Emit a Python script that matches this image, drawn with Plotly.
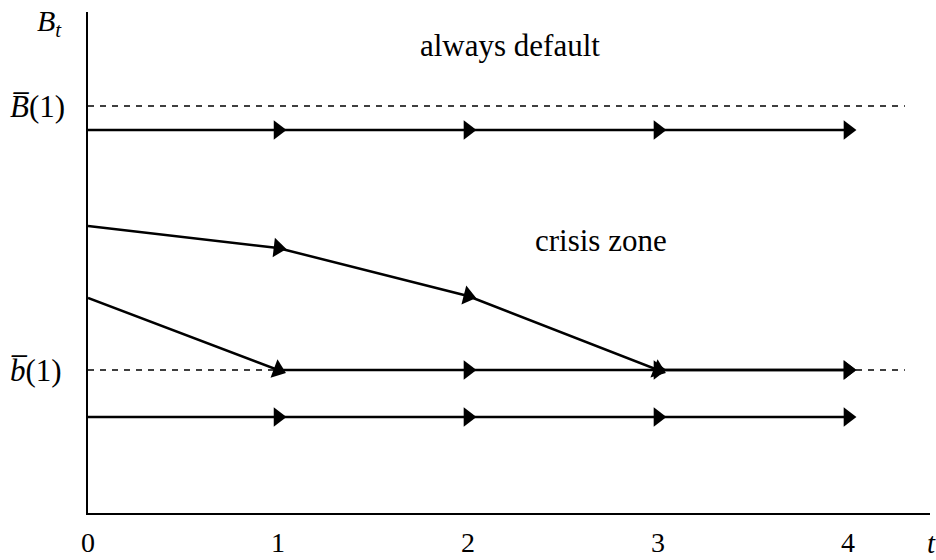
import plotly.graph_objects as go

# Time points
t_full = [0, 1, 2, 3, 4]

# Levels (arbitrary units)
B_bar = 4.07
b_bar = 1.43
top_path = [3.83, 3.83, 3.83, 3.83, 3.83]
crisis_path = [2.87, 2.65, 2.17, 1.43, 1.43]
mid_path = [2.15, 1.43, 1.43, 1.43, 1.43]
bottom_path = [0.96, 0.96, 0.96, 0.96, 0.96]

tick_vals = [0, 1, 2, 3, 4]
tick_labels = ["0", "1", "2", "3", "4"]

FONT = "Liberation Serif"
fig = go.Figure()

# dashed reference lines
for lvl in [B_bar, b_bar]:
    fig.add_trace(go.Scatter(x=[0, 4.3], y=[lvl, lvl], mode="lines",
                             line=dict(color="black", width=1.5, dash="6px,6px"),
                             hoverinfo="skip", showlegend=False))

for path in [top_path, crisis_path, mid_path, bottom_path]:
    fig.add_trace(go.Scatter(
        x=t_full, y=path, mode="lines+markers",
        line=dict(color="black", width=2.5),
        marker=dict(symbol="triangle-up", angleref="previous",
                    size=[0] + [17] * (len(path) - 1), color="black",
                    opacity=1, line=dict(width=0)),
        hoverinfo="skip", showlegend=False))

fig.add_annotation(x=2.22, y=4.68, text="always default", showarrow=False,
                   font=dict(family=FONT, size=31, color="black"))
fig.add_annotation(x=2.7, y=2.73, text="crisis zone", showarrow=False,
                   font=dict(family=FONT, size=31, color="black"))

# axis labels
fig.add_annotation(x=0, y=4.9, xref="x", yref="y", xanchor="right", xshift=-24,
                   text="<i>B</i><sub><i>t</i></sub>", showarrow=False,
                   font=dict(family=FONT, size=30, color="black"))
fig.add_annotation(x=0, y=B_bar, xref="x", yref="y", xanchor="right", xshift=-21,
                   text="<i>B\u0305</i>(1)", showarrow=False,
                   font=dict(family=FONT, size=31, color="black"))
fig.add_annotation(x=0, y=b_bar, xref="x", yref="y", xanchor="right", xshift=-24,
                   text="<i>b\u0305</i>(1)", showarrow=False,
                   font=dict(family=FONT, size=31, color="black"))
fig.add_annotation(x=4.432, y=0, xref="x", yref="y", xanchor="center", yanchor="top",
                   xshift=1, yshift=-12, text="<i>t</i>", showarrow=False,
                   font=dict(family=FONT, size=29, color="black"))

fig.update_layout(
    width=936, height=560,
    margin=dict(l=88, r=6, t=12, b=47, autoexpand=False),
    plot_bgcolor="white", paper_bgcolor="white",
    xaxis=dict(range=[0, 4.432], showgrid=False, zeroline=False, automargin=False,
               showline=True, linecolor="black", linewidth=2,
               tickvals=tick_vals, ticktext=tick_labels,
               ticks="outside", ticklen=3, tickcolor="rgba(0,0,0,0)",
               tickfont=dict(family=FONT, size=28, color="black")),
    yaxis=dict(range=[0, 5.01], showgrid=False, zeroline=False, automargin=False,
               showline=True, linecolor="black", linewidth=2,
               showticklabels=False, ticks=""),
)

fig.write_html("out.html", config={"displayModeBar": False},
               post_script="document.body.style.margin='0';document.body.style.overflow='hidden';")
